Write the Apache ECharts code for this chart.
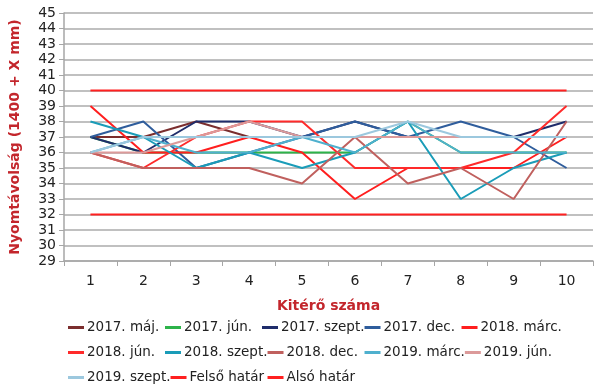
<!DOCTYPE html>
<html>
<head>
<meta charset="utf-8">
<script src="https://cdn.jsdelivr.net/npm/echarts@6/dist/echarts.min.js"></script>
<style>html,body{margin:0;padding:0;background:#fff}#c{width:600px;height:390px}</style>
</head>
<body>
<div id="c"></div>
<script>
const categories = ['1','2','3','4','5','6','7','8','9','10'];
const seriesNames = ['2017. máj.','2017. jún.','2017. szept.','2017. dec.','2018. márc.','2018. jún.','2018. szept.','2018. dec.','2019. márc.','2019. jún.','2019. szept.','Felső határ','Alsó határ'];
const maj2017   = [37, 37, 38, 37, 37, 37, 37, 37, 37, 37];
const jun2017   = [37, 36, 36, 36, 36, 36, 38, 36, 36, 36];
const szept2017 = [37, 36, 38, 38, 37, 38, 37, 37, 37, 38];
const dec2017   = [37, 38, 35, 36, 37, 38, 37, 38, 37, 35];
const marc2018  = [39, 36, 36, 37, 36, 33, 35, 35, 35, 37];
const jun2018   = [36, 35, 37, 38, 38, 35, 35, 35, 36, 39];
const szept2018 = [38, 37, 35, 36, 35, 36, 38, 33, 35, 36];
const dec2018   = [36, 35, 35, 35, 34, 37, 34, 35, 33, 38];
const marc2019  = [36, 37, 36, 36, 37, 36, 38, 36, 36, 36];
const jun2019   = [36, 36, 37, 38, 37, 37, 37, 37, 37, 37];
const szept2019 = [36, 37, 37, 37, 37, 37, 38, 37, 37, 37];
const felso     = [40, 40, 40, 40, 40, 40, 40, 40, 40, 40];
const also      = [32, 32, 32, 32, 32, 32, 32, 32, 32, 32];
const yTicks = {min: 29, max: 45, interval: 1};

const allData = [maj2017, jun2017, szept2017, dec2017, marc2018, jun2018, szept2018, dec2018, marc2019, jun2019, szept2019, felso, also];
const colors = ['#7B2E2E','#2DB34A','#1F2D6B','#2F5D9C','#FF1E1E','#FF2A2A','#1A9CB8','#C0605E','#4FB0CE','#DC9A9A','#9CC8DE','#FF2020','#FF2020'];

const chart = echarts.init(document.getElementById('c'), null, {renderer: 'canvas'});
const font = 'DejaVu Sans';
chart.setOption({
  animation: false,
  color: colors,
  grid: {left: 61, right: 7, top: 13, bottom: 129},
  legend: {
    data: seriesNames,
    left: 63, top: 310, width: 500,
    itemWidth: 16, itemHeight: 3, itemGap: 0,
    icon: 'rect',
    textStyle: {fontFamily: font, fontSize: 13.5, color: '#222', width: 78, lineHeight: 25, padding: [0,0,0,-2]}
  },
  xAxis: {
    type: 'category', data: categories, boundaryGap: true,
    name: 'Kitérő száma', nameLocation: 'middle', nameGap: 38,
    nameTextStyle: {fontFamily: font, fontSize: 14, fontWeight: 'bold', color: '#C3262C'},
    axisLine: {lineStyle: {color: '#A6A6A6', width: 1.5}},
    axisTick: {show: true, interval: 0, length: 5, lineStyle: {color: '#A6A6A6'}},
    axisLabel: {fontFamily: font, fontSize: 14, color: '#222', margin: 13, interval: 0}
  },
  yAxis: {
    type: 'value', min: yTicks.min, max: yTicks.max, interval: yTicks.interval,
    name: 'Nyomtávolság (1400 + X mm)', nameLocation: 'middle', nameGap: 42, nameRotate: 90,
    nameTextStyle: {fontFamily: font, fontSize: 14, fontWeight: 'bold', color: '#C3262C'},
    axisLine: {show: true, lineStyle: {color: '#A6A6A6', width: 1.5}},
    axisTick: {show: true, length: 5, lineStyle: {color: '#A6A6A6'}},
    axisLabel: {fontFamily: font, fontSize: 14, color: '#222', margin: 8},
    splitLine: {lineStyle: {color: '#ABABAB', width: 1.5}}
  },
  series: seriesNames.map((n, i) => ({
    name: n, type: 'line', data: allData[i], showSymbol: false, symbol: 'none',
    lineStyle: {width: 2, color: colors[i]}, itemStyle: {color: colors[i]}
  }))
});
</script>
</body>
</html>
